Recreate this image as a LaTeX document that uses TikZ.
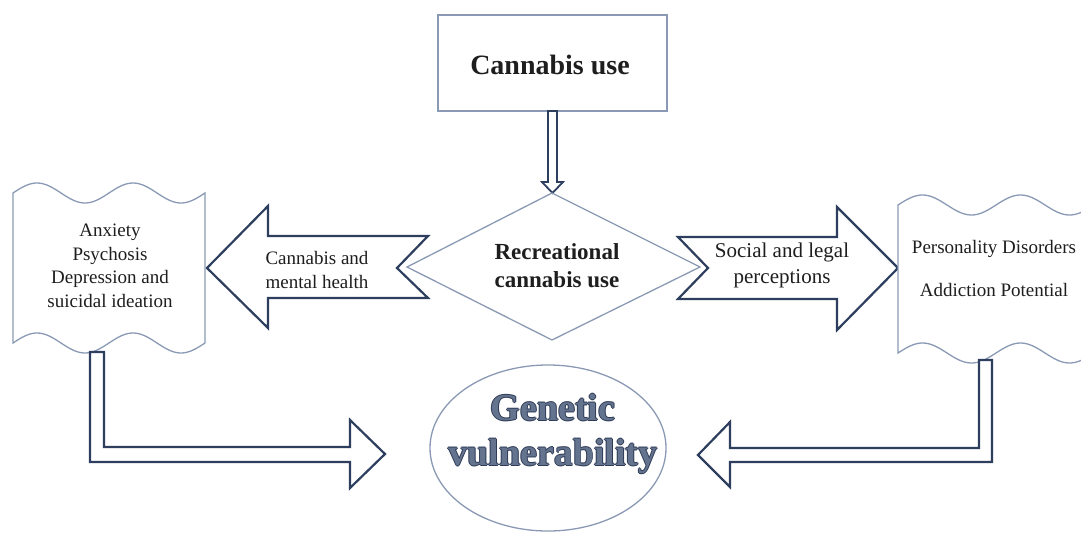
\documentclass[tikz,border=0pt]{standalone}
\usepackage{fontspec}
\setmainfont{Liberation Serif}
\usetikzlibrary{shapes.geometric}
\definecolor{lightline}{HTML}{8A9AB5}
\definecolor{navy}{HTML}{2E3E5E}
\definecolor{txt}{HTML}{1E1E1E}
\definecolor{gdark}{HTML}{2F3C57}
\definecolor{glight}{HTML}{64738E}
\newcommand\olt[1]{\makebox[0pt][l]{\color{gdark}\raisebox{0.9pt}{#1}}\makebox[0pt][l]{\color{gdark}\raisebox{-0.9pt}{#1}}\makebox[0pt][l]{\color{gdark}\hspace{0.9pt}#1}\makebox[0pt][l]{\color{gdark}\hspace{-0.9pt}#1}{\color{glight}#1}}
\tikzset{
  thinbox/.style={draw=lightline, line width=1.3pt, fill=white},
  blockarrow/.style={draw=navy, line width=2.2pt, fill=white, line join=miter},
  label/.style={text=txt, align=center, inner sep=0pt},
}
\begin{document}
\begin{tikzpicture}[x=1pt,y=-1pt]
\clip (0,0) rectangle (1081,533);
\fill[white] (0,0) rectangle (1081,533);
% Cannabis use box
\draw[thinbox] (438,15) rectangle (667,111);
\node[label, font=\fontsize{28}{34}\selectfont\bfseries] (cu) at (550,65) {Cannabis use};
% top down arrow
\draw[blockarrow, line width=1.8pt] (548,111) -- (557,111) -- (557,182) -- (563,182) -- (552.5,193) -- (542,182) -- (548,182) -- cycle;
% left block arrow
\draw[blockarrow] (207,268) -- (268,206) -- (268,236) -- (428,236) -- (397,268) -- (428,298) -- (268,298) -- (268,328) -- cycle;
\node[label, font=\fontsize{19}{24}\selectfont] (cmh) at (317,270) {Cannabis and\\mental health};
% right block arrow
\draw[blockarrow] (678,237) -- (837,237) -- (837,207) -- (898,268) -- (837,330) -- (837,299) -- (678,299) -- (708,268) -- cycle;
\node[label, font=\fontsize{21}{26}\selectfont] (slp) at (782,265) {Social and legal\\perceptions};
% diamond
\draw[draw=lightline, line width=1.3pt] (552,193) -- (700,267) -- (552,340) -- (407,267) -- cycle;
\node[label, font=\fontsize{23}{28}\selectfont\bfseries] (rec) at (557,266) {Recreational\\cannabis use};
% left wave box
\draw[thinbox] plot[domain=0:192, samples=80, smooth] ({13+\x},{193-10*sin(3.75*\x)}) -- plot[domain=192:0, samples=80, smooth] ({13+\x},{343-10*sin(3.75*\x)}) -- cycle;
\node[label, font=\fontsize{19}{23.5}\selectfont] (anx) at (110,266) {Anxiety\\Psychosis\\Depression and\\suicidal ideation};
% right wave box
\draw[thinbox] plot[domain=0:196, samples=80, smooth] ({898+\x},{205-10*sin(3.6735*\x)}) -- plot[domain=196:0, samples=80, smooth] ({898+\x},{353-10*sin(3.6735*\x)}) -- cycle;
\node[label, font=\fontsize{19}{23}\selectfont] (pers) at (994,268) {Personality Disorders\\[20pt]Addiction Potential};
% genetic ellipse
\node[draw=lightline, line width=1.3pt, ellipse, minimum width=236pt, minimum height=166pt, inner sep=0pt] (genE) at (548,448) {};
\node[align=center, inner sep=0pt, font=\fontsize{38}{45}\selectfont\bfseries] (gen) at (553,434) {\olt{Genetic}\\\olt{vulnerability}};
% bottom L arrows
\draw[blockarrow] (90,352) -- (104,352) -- (104,447) -- (350,447) -- (350,420) -- (385,454) -- (350,488) -- (350,462) -- (90,462) -- cycle;
\draw[blockarrow] (979,360) -- (992,360) -- (992,462) -- (730,462) -- (730,487) -- (698,455) -- (730,422) -- (730,448) -- (979,448) -- cycle;
\end{tikzpicture}
\end{document}
